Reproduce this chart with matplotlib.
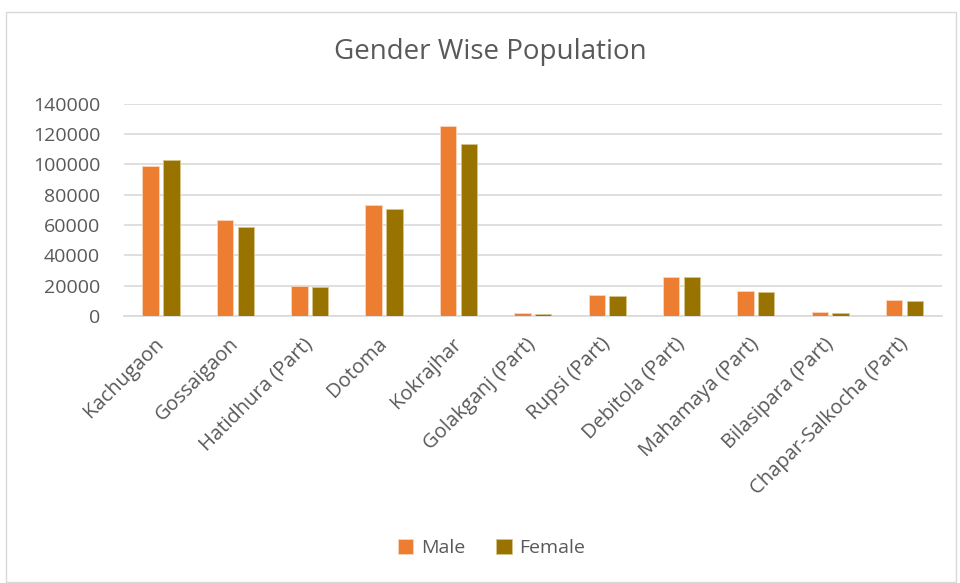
import numpy as np
import matplotlib.pyplot as plt
from matplotlib.patches import Rectangle

plt.rcParams['font.family'] = ['Open Sans', 'DejaVu Sans']

places = ["Kachugaon", "Gossaigaon", "Hatidhura (Part)", "Dotoma", "Kokrajhar",
          "Golakganj (Part)", "Rupsi (Part)", "Debitola (Part)", "Mahamaya (Part)",
          "Bilasipara (Part)", "Chapar-Salkocha (Part)"]
male = [99200, 63300, 20100, 73400, 125300, 1800, 13700, 26000, 16500, 2400, 10400]
female = [102800, 58400, 19000, 70800, 113600, 1500, 13000, 25600, 15700, 2200, 9700]

grey = '#595959'
fig = plt.figure(figsize=(9.6, 5.83), dpi=100)
ax = fig.add_axes([0.129, 0.458, 0.852, 0.364])

x = np.arange(len(places))
w = 0.22
ax.bar(x - 0.14, male, w, color='#ED7D31', edgecolor='#FBD5BC', linewidth=0.6, label='Male', zorder=3)
ax.bar(x + 0.14, female, w, color='#997300', edgecolor='#D6C58A', linewidth=0.6, label='Female', zorder=3)

ax.set_xlim(-0.5, len(places) - 0.5)
ax.set_ylim(0, 140000)
ax.set_yticks(np.arange(0, 140001, 20000))
ax.yaxis.grid(True, color='#D9D9D9', linewidth=1.2, zorder=0)
ax.set_xticks(x)
ax.set_xticklabels(places, rotation=45, ha='right', va='center', rotation_mode='anchor')
ax.tick_params(length=0, colors=grey)
ax.tick_params(axis='y', labelsize=14, pad=17)
ax.tick_params(axis='x', labelsize=14.5, pad=18)
for s in ['top', 'right', 'left']:
    ax.spines[s].set_visible(False)
ax.spines['bottom'].set_color('#D9D9D9')
ax.spines['bottom'].set_linewidth(1.2)

fig.text(0.511, 0.91, "Gender Wise Population", ha='center', va='center', fontsize=20, color=grey)
fig.legend(loc='center', bbox_to_anchor=(0.512, 0.06), ncol=2, frameon=False, fontsize=14,
           handlelength=0.8, handleheight=0.8, handletextpad=0.4, columnspacing=1.6,
           labelcolor=grey)

fig.patches.append(Rectangle((6 / 960, 0.002), 950 / 960, 1 - 12 / 583 - 0.002,
                             transform=fig.transFigure, fill=False, edgecolor='#D9D9D9', linewidth=1))

fig.savefig("out.png", dpi=100)
